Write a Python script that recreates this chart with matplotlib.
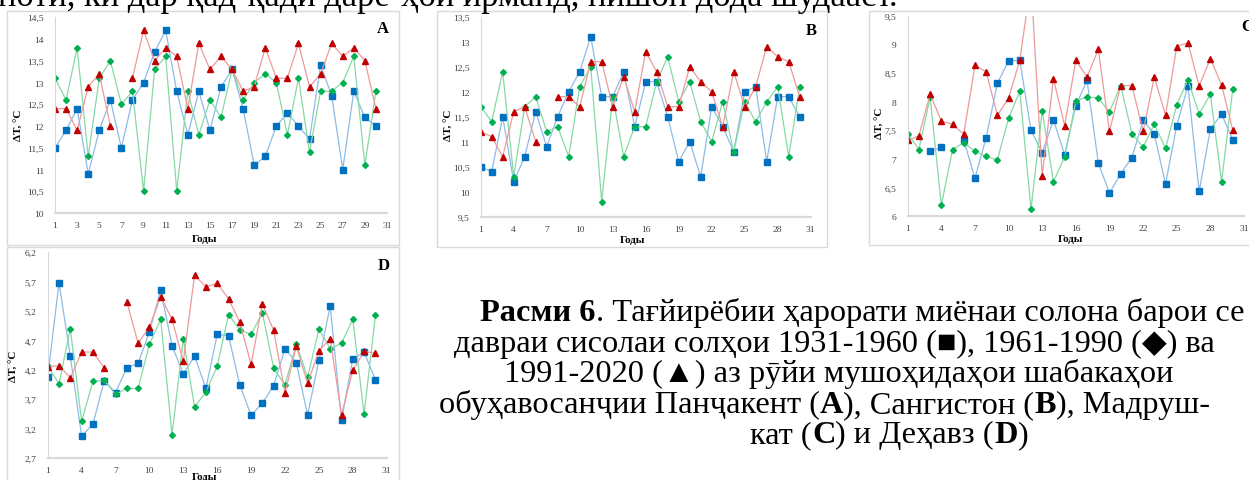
import numpy as np
import matplotlib
matplotlib.use("Agg")
import matplotlib.pyplot as plt
from matplotlib.patches import Rectangle
from matplotlib.ticker import FuncFormatter

nan = np.nan
years = list(range(1, 31))

# A - Панҷакент
a_1931 = [11.5, 11.9, 12.4, 10.9, 11.9, 12.6, 11.5, 12.6, 13.0, 13.7, 14.2, 12.8, 11.8, 12.8, 11.9,
          12.9, 13.3, 12.4, 11.1, 11.3, 12.0, 12.3, 12.0, 11.7, 13.4, 12.7, 11.0, 12.8, 12.2, 12.0]
a_1961 = [13.1, 12.6, 13.8, 11.3, 13.1, 13.5, 12.5, 12.8, 10.5, 13.3, 13.6, 10.5, 12.8, 11.8, 12.6,
          12.2, 13.3, 12.6, 13.0, 13.2, 13.0, 11.8, 13.1, 11.4, 12.8, 12.8, 13.0, 13.6, 11.1, 12.8]
a_1991 = [12.4, 12.4, 11.9, 12.9, 13.2, 12.0, nan, 13.1, 14.2, 13.5, 13.8, 13.6, 12.4, 13.9, 13.3,
          13.6, 13.3, 12.8, 12.9, 13.8, 13.1, 13.1, 13.9, 12.9, 13.2, 13.9, 13.6, 13.8, 13.5, 12.4]

# B - Сангистон
b_1931 = [10.5, 10.4, 11.5, 10.2, 10.7, 11.6, 10.9, 11.5, 12.0, 12.4, 13.1, 11.9, 11.9, 12.4, 11.3,
          12.2, 12.2, 11.5, 10.6, 11.0, 10.3, 11.7, 11.3, 10.8, 12.0, 12.1, 10.6, 11.9, 11.9, 11.5]
b_1961 = [11.7, 11.4, 12.4, 10.3, 11.7, 11.9, 11.2, 11.3, 10.7, 12.1, 12.5, 9.8, 11.9, 10.7, 11.3,
          11.3, 12.2, 12.7, 11.8, 12.2, 11.4, 11.0, 11.8, 10.8, 11.8, 11.4, 11.8, 12.1, 10.7, 12.1]
b_1991 = [11.2, 11.1, 10.7, 11.6, 11.7, 11.0, nan, 11.9, 11.9, 11.7, 12.6, 12.6, 11.7, 12.3, 11.6,
          12.8, 12.4, 11.7, 11.7, 12.5, 12.2, 12.0, 11.3, 12.4, 11.7, 12.1, 12.9, 12.7, 12.6, 11.9]

# C - Мадрушкат
c_1931 = [nan, nan, 7.13, 7.2, nan, 7.33, 6.66, 7.37, 8.32, 8.71, 8.72, 7.5, 7.1, 7.68, 7.07,
          7.93, 8.37, 6.93, 6.4, 6.74, 7.02, 7.67, 7.43, 6.56, 7.58, 8.27, 6.43, 7.52, 7.78, 7.33]
c_1961 = [7.44, 7.16, 8.08, 6.19, 7.16, 7.28, 7.13, 7.04, 6.98, 7.71, 8.18, 6.12, 7.83, 6.6, 7.03,
          8.01, 8.08, 8.06, 7.82, 8.28, 7.44, 7.2, 7.61, 7.18, 7.94, 8.38, 7.78, 8.13, 6.6, 8.22]
c_1991 = [7.32, 7.4, 8.13, 7.66, 7.6, 7.43, 8.63, 8.52, 7.76, 8.06, 8.72, 10.1, 6.7, 8.4, 7.58,
          8.72, 8.43, 8.91, 7.48, 8.28, 8.28, 7.48, 8.43, 7.76, 8.96, 9.03, 8.27, 8.75, 8.29, 7.5]

# D - Деҳавз
d_1931 = [4.07, 5.68, 4.43, 3.07, 3.27, 4.01, 3.81, 4.23, 4.31, 4.84, 5.56, 4.61, 4.13, 4.43, 3.88,
          4.8, 4.78, 3.94, 3.42, 3.63, 3.93, 4.56, 4.32, 3.43, 4.36, 5.28, 3.34, 4.38, 4.5, 4.03]
d_1961 = [4.26, 3.96, 4.9, 3.32, 4.0, 4.02, 3.78, 3.88, 3.88, 4.63, 5.06, 3.09, 4.73, 3.56, 3.82,
          4.26, 5.14, 4.88, 4.8, 5.17, 4.22, 3.94, 4.64, 4.07, 4.89, 4.56, 4.65, 5.06, 3.44, 5.13]
d_1991 = [4.25, 4.27, 4.06, 4.5, 4.5, 4.23, nan, 5.36, 4.65, 4.93, 5.44, 5.06, 4.34, 5.81, 5.61,
          5.67, 5.41, 5.01, 4.29, 5.32, 4.87, 3.8, 4.6, 3.97, 4.52, 4.73, 3.43, 4.19, 4.51, 4.48]

W, H = 1249, 481
fig = plt.figure(figsize=(W / 100, H / 100), dpi=100)
fig.patch.set_facecolor("white")

serif = ["Liberation Serif", "DejaVu Serif"]
plt.rcParams["font.family"] = serif

def fx(x):
    return x / W

def fy(y):
    return 1 - y / H

def comma(v, pos):
    s = ("%.1f" % v).rstrip("0").rstrip(".")
    return s.replace(".", ",")

# рамкаҳои панелҳо
for l, t, r, b in [(7, 12, 399, 246), (437, 12, 827, 248), (869, 12, 1260, 246), (7, 248, 399, 500)]:
    fig.patches.append(Rectangle((fx(l), fy(b)), fx(r - l), (b - t) / H, transform=fig.transFigure,
                                 fill=False, edgecolor="#D9D9D9", linewidth=1.0))

panels = [
    # data, box (l, t, r, b), ylim, xstep, letter pos, ylabel pos, xlabel pos
    ((a_1931, a_1961, a_1991), (55, 18.3, 387, 214), (10, 14.5), 2, "A", (383, 29), (18, 125), (205, 239)),
    ((b_1931, b_1961, b_1991), (480.7, 17.7, 810.7, 217.7), (9.5, 13.5), 3, "B", (811, 31), (448, 125), (633, 241)),
    ((c_1931, c_1961, c_1991), (907.7, 16.7, 1244, 217), (6, 9.5), 3, "C", (1247, 27), (879, 123), (1070, 240)),
    ((d_1931, d_1961, d_1991), (47.7, 253.3, 386.7, 458.7), (2.7, 6.2), 3, "D", (384, 266), (13, 366), (205, 478)),
]

for series, (l, t, r, b), ylim, xstep, letter, lpos, ypos, xpos in panels:
    ax = fig.add_axes([fx(l), fy(b), fx(r - l), (b - t) / H])
    s1, s2, s3 = series
    ax.plot(years, s1, color="#8DBCE8", lw=0.9, marker="s", ms=4.6, mfc="#0070C0", mec="#0070C0")
    ax.plot(years, s2, color="#86D9A4", lw=0.9, marker="D", ms=3.0, mfc="#00B050", mec="#00B050")
    ax.plot(years, s3, color="#EE9A9A", lw=0.9, marker="^", ms=4.8, mfc="#C00000", mec="#C00000")
    ax.set_xlim(1, 31)
    ax.set_ylim(*ylim)
    ax.set_xticks(range(1, 32, xstep))
    ax.set_yticks(np.round(np.arange(ylim[0], ylim[1] + 0.01, 0.5), 2))
    ax.yaxis.set_major_formatter(FuncFormatter(comma))
    ax.tick_params(length=0, labelsize=6.8, labelcolor="#404040")
    ax.tick_params(axis="y", pad=8)
    ax.tick_params(axis="x", pad=6)
    for side in ("top", "right"):
        ax.spines[side].set_visible(False)
    ax.spines["left"].set_color("#D9D9D9")
    ax.spines["left"].set_linewidth(0.8)
    ax.spines["bottom"].set_color("#D9D9D9")
    ax.spines["bottom"].set_linewidth(1.6)
    ax.set_facecolor("none")
    fig.text(fx(lpos[0]), fy(lpos[1]), letter, fontsize=12, fontweight="bold", ha="center", va="center")
    fig.text(fx(ypos[0]), fy(ypos[1]), "ΔT, °C", fontsize=8, fontweight="bold", rotation=90,
             ha="center", va="center")
    fig.text(fx(xpos[0]), fy(xpos[1]), "Годы", fontsize=8, fontweight="bold", ha="center", va="center")

# матни зернавис бо қисмҳои ғафс
renderer = fig.canvas.get_renderer()

def runs_width(runs, size):
    w = 0
    for txt, weight in runs:
        t = fig.text(0, 0, txt, fontsize=size, fontweight=weight)
        w += t.get_window_extent(renderer).width
        t.remove()
    return w

caption = [
    (455, 321, [("Расми 6", "bold"), (". Тағйирёбии ҳарорати миёнаи солона барои се", "normal")]),
    (428, 352, [("давраи сисолаи солҳои 1931-1960 (■), 1961-1990 (◆) ва", "normal")]),
    (482, 382, [("1991-2020 (▲) аз рӯйи мушоҳидаҳои шабакаҳои", "normal")]),
    (413, 413, [("обуҳавосанҷии Панҷакент (", "normal"), ("A", "bold"), ("), Сангистон (", "normal"),
                ("B", "bold"), ("), Мадруш-", "normal")]),
    (741, 443, [("кат (", "normal"), ("C", "bold"), (") и Деҳавз (", "normal"), ("D", "bold"), (")", "normal")]),
]

fit_size = 20 * (1240 - 428) / runs_width(caption[1][2], 20)
cap_size = fit_size * 0.94

for left, y, runs in caption:
    center = left + runs_width(runs, fit_size) / 2
    x = center - runs_width(runs, cap_size) / 2
    for txt, weight in runs:
        t = fig.text(fx(x), fy(y), txt, fontsize=cap_size, fontweight=weight, ha="left", va="baseline")
        x += t.get_window_extent(renderer).width

# сатри болоии саҳифа, ки бо канор бурида шудааст
fig.text(fx(-2), fy(6), "ноти, ки дар қад-қади дарё-ҳои ирманд, нишон дода шудааст.",
         fontsize=fit_size, ha="left", va="baseline")

fig.savefig("out.png", dpi=100, facecolor="white")
